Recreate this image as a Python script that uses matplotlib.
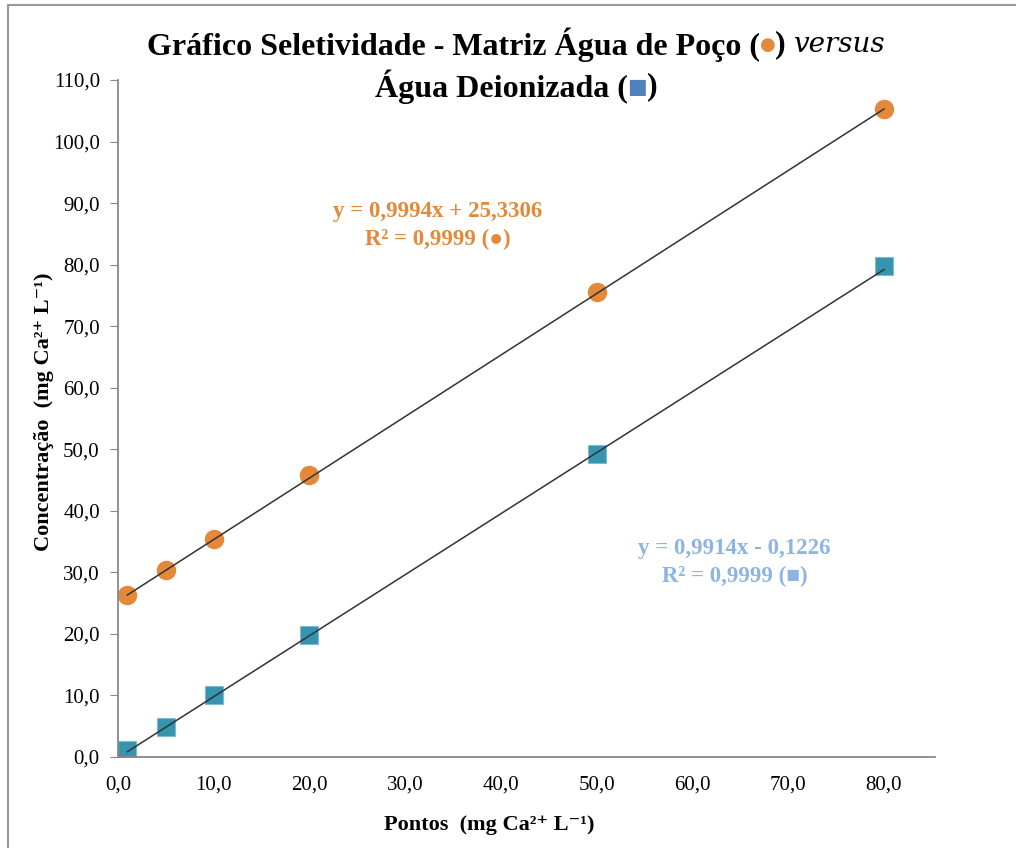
import matplotlib
matplotlib.use('Agg')
import matplotlib.pyplot as plt
import numpy as np
from matplotlib.patches import Rectangle

plt.rcParams['font.family'] = ['Liberation Serif', 'DejaVu Serif', 'DejaVu Sans']

# data
pontos = [1, 5, 10, 20, 50, 80]
poco = [26.3, 30.4, 35.4, 45.8, 75.6, 105.3]
deionizada = [1.1, 4.9, 10.1, 19.8, 49.2, 79.8]
fit_poco = (0.9994, 25.3306)
fit_deion = (0.9914, -0.1226)
eq_poco = 'y = 0,9994x + 25,3306\nR² = 0,9999 (●)'
eq_deion = 'y = 0,9914x - 0,1226\nR² = 0,9999 (■)'
xticks = [0, 10, 20, 30, 40, 50, 60, 70, 80]
yticks = [0, 10, 20, 30, 40, 50, 60, 70, 80, 90, 100, 110]

orange = '#E4893A'
teal = '#3794AE'
lightblue = '#8DB4E2'

fig = plt.figure(figsize=(10.16, 8.48), dpi=100)
ax = fig.add_axes([0.116, 0.1073, 0.804, 0.7984])

xs = np.array([pontos[0], pontos[-1]])
ax.plot(xs, fit_poco[0] * xs + fit_poco[1], color='#333333', lw=1.1, zorder=3)
ax.plot(xs, fit_deion[0] * xs + fit_deion[1], color='#333333', lw=1.1, zorder=3)
ax.plot(pontos, poco, 'o', color=orange, ms=13, mec=orange, zorder=2)
ax.plot(pontos, deionizada, 's', color=teal, ms=13, mec='#7FBBD0', mew=0.8, zorder=2)

ax.set_xlim(0, 85.3)
ax.set_ylim(0, 110)
ax.set_xticks(xticks)
ax.set_yticks(yticks)
ax.set_xticklabels([f'{v:.1f}'.replace('.', ',') for v in xticks], fontsize=15)
ax.set_yticklabels([f'{v:.1f}'.replace('.', ',') for v in yticks], fontsize=15)
ax.tick_params(axis='x', length=0, pad=13)
ax.tick_params(axis='y', length=6, color='#888888', direction='out', pad=7)
for s in ['top', 'right']:
    ax.spines[s].set_visible(False)
for s in ['left', 'bottom']:
    ax.spines[s].set_color('#888888')
    ax.spines[s].set_linewidth(1.3)

ax.set_xlabel('Pontos  (mg Ca²⁺ L⁻¹)', fontsize=16, fontweight='bold')
ax.xaxis.set_label_coords(0.455, -0.085)
ax.set_ylabel('Concentração  (mg Ca²⁺ L⁻¹)', fontsize=16, fontweight='bold')
ax.yaxis.set_label_coords(-0.078, 0.51)

ax.text(0.392, 0.785, eq_poco, transform=ax.transAxes, ha='center', va='center',
        fontsize=16.5, fontweight='bold', color=orange, linespacing=1.45)
ax.text(0.755, 0.287, eq_deion, transform=ax.transAxes, ha='center', va='center',
        fontsize=16.5, fontweight='bold', color=lightblue, linespacing=1.45)

# title built from pieces so the symbols can be coloured
fig.canvas.draw()
renderer = fig.canvas.get_renderer()


def text_line(pieces, y, cx=0.508):
    objs = []
    for txt, col, style, weight, size, fam in pieces:
        t = fig.text(0, y, txt, fontsize=size, fontweight=weight, color=col,
                     style=style, va='center', ha='left', family=fam)
        objs.append(t)
    widths = [o.get_window_extent(renderer).width / fig.bbox.width for o in objs]
    x = cx - sum(widths) / 2
    for o, w in zip(objs, widths):
        o.set_x(x)
        x += w


serif = 'Liberation Serif'
text_line([('Gráfico Seletividade - Matriz Água de Poço (', 'black', 'normal', 'bold', 23, serif),
           ('●', orange, 'normal', 'bold', 13, 'DejaVu Sans'),
           (') ', 'black', 'normal', 'bold', 23, serif),
           ('versus', 'black', 'italic', 'normal', 20, 'DejaVu Serif')], 1 - 45 / 848)
text_line([('Água Deionizada (', 'black', 'normal', 'bold', 23, serif),
           ('■', '#4F81BD', 'normal', 'bold', 15, 'DejaVu Sans'),
           (')', 'black', 'normal', 'bold', 23, serif)], 1 - 87 / 848)

fig.patches.append(Rectangle((8 / 1016, -0.1), 1.2, 1.1 - 5 / 848, transform=fig.transFigure,
                             fill=False, edgecolor='#999999', lw=1.5))

fig.savefig('out.png', dpi=100)
